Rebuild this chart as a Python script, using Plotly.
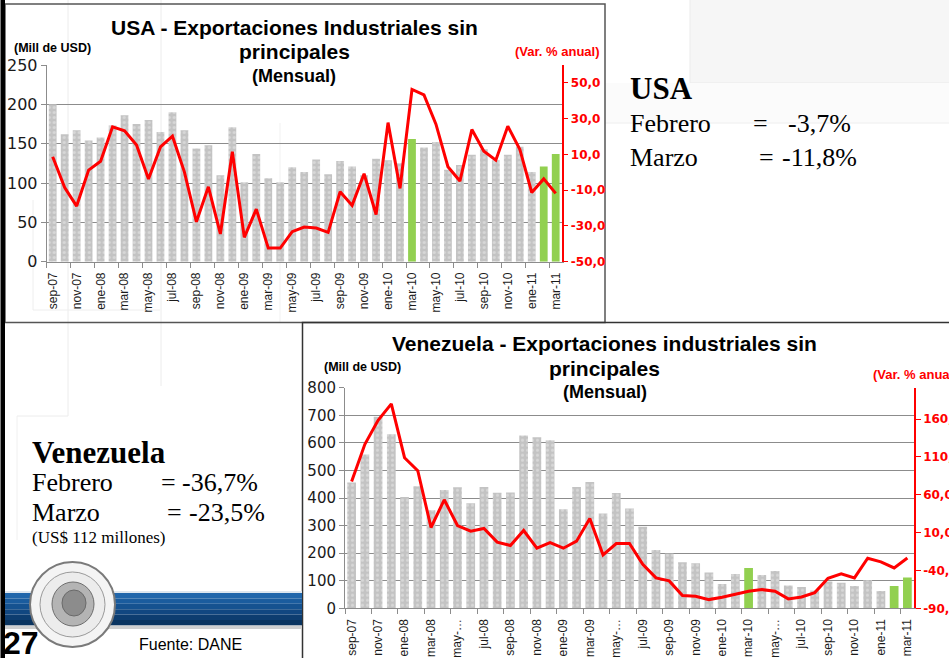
import plotly.graph_objects as go

W, H = 949, 658


def fx(x):
    return x / W


def fy(y):
    return 1 - y / H


# ---------------- data ----------------
months = ["sep-07", "oct-07", "nov-07", "dic-07", "ene-08", "feb-08", "mar-08", "abr-08",
          "may-08", "jun-08", "jul-08", "ago-08", "sep-08", "oct-08", "nov-08", "dic-08",
          "ene-09", "feb-09", "mar-09", "abr-09", "may-09", "jun-09", "jul-09", "ago-09",
          "sep-09", "oct-09", "nov-09", "dic-09", "ene-10", "feb-10", "mar-10", "abr-10",
          "may-10", "jun-10", "jul-10", "ago-10", "sep-10", "oct-10", "nov-10", "dic-10",
          "ene-11", "feb-11", "mar-11"]
highlight = ["mar-10", "feb-11", "mar-11"]

usa_exports = [200, 162, 167, 154, 158, 173, 186, 175, 180, 165, 190, 167, 144, 148, 110,
               171, 101, 137, 106, 101, 120, 114, 130, 111, 128, 121, 110, 131, 129, 125,
               156, 145, 152, 117, 123, 136, 143, 129, 136, 146, 114, 121, 137]
usa_var = [8.7, -8.5, -18.9, 1.2, 6.2, 25.4, 23.2, 15.2, -3.8, 14.2, 20.2, 0.1, -27.7, -8.1,
           -34.5, 11.5, -36.4, -20.6, -42.4, -42.4, -33.2, -30.6, -31.2, -33.6, -10.9, -18.5,
           -0.8, -23.6, 27.8, -9.0, 46.3, 43.3, 26.9, 3.1, -4.9, 23.9, 11.8, 6.8, 25.8, 12.9,
           -11.3, -3.7, -11.8]

ven_exports = [456, 558, 695, 631, 404, 443, 356, 429, 439, 381, 440, 419, 420, 627, 620,
               609, 359, 440, 458, 344, 418, 362, 296, 211, 199, 167, 163, 130, 88, 124,
               146, 121, 135, 83, 77, 65, 97, 93, 81, 102, 63, 81, 112]
ven_var = [77.7, 126.7, 158.5, 180.1, 109.0, 91.8, 16.8, 53.4, 19.4, 11.9, 15.5, -2.6, -7.0,
           12.8, -10.6, -3.1, -10.6, -1.3, 28.7, -19.4, -4.4, -4.4, -32.0, -49.8, -53.8,
           -73.2, -74.1, -78.5, -75.4, -71.5, -67.5, -65.3, -67.5, -77.6, -75.0, -69.3,
           -50.3, -44.5, -49.8, -23.8, -28.7, -36.7, -23.5]

usa_left_ticks = [0, 50, 100, 150, 200, 250]
usa_right_ticks = [-50, -30, -10, 10, 30, 50]
ven_left_ticks = [0, 100, 200, 300, 400, 500, 600, 700, 800]
ven_right_ticks = [-90, -40, 10, 60, 110, 160]

usa_ticktext = months[::2]
ven_ticktext = ["may-\u2026" if m.startswith("may") else m for m in months[::2]]

# ---------------- derived ----------------
idx = list(range(len(months)))
gray_idx = [i for i in idx if months[i] not in highlight]
green_idx = [i for i in idx if months[i] in highlight]


def fmt(v):
    return f"{v:.1f}".replace(".", ",")


GRAY = "#c3c3c3"
GREEN = "#92d050"
GRID = "#8c8c8c"
pattern = dict(shape=".", fgcolor="#ececec", bgcolor=GRAY, size=5, solidity=0.3)

fig = go.Figure()

# USA
fig.add_trace(go.Bar(x=gray_idx, y=[usa_exports[i] for i in gray_idx], width=0.65,
                     marker=dict(color=GRAY, pattern=pattern, line=dict(width=0)),
                     xaxis="x", yaxis="y", hoverinfo="skip"))
fig.add_trace(go.Bar(x=green_idx, y=[usa_exports[i] for i in green_idx], width=0.65,
                     marker=dict(color=GREEN, line=dict(width=0)),
                     xaxis="x", yaxis="y", hoverinfo="skip"))
fig.add_trace(go.Scatter(x=idx, y=usa_var, mode="lines",
                         line=dict(color="#ff0000", width=3),
                         xaxis="x", yaxis="y2", hoverinfo="skip"))
# Venezuela
fig.add_trace(go.Bar(x=gray_idx, y=[ven_exports[i] for i in gray_idx], width=0.66,
                     marker=dict(color=GRAY, pattern=pattern, line=dict(width=0)),
                     xaxis="x2", yaxis="y3", hoverinfo="skip"))
fig.add_trace(go.Bar(x=green_idx, y=[ven_exports[i] for i in green_idx], width=0.66,
                     marker=dict(color=GREEN, line=dict(width=0)),
                     xaxis="x2", yaxis="y3", hoverinfo="skip"))
fig.add_trace(go.Scatter(x=idx, y=ven_var, mode="lines",
                         line=dict(color="#ff0000", width=3),
                         xaxis="x2", yaxis="y4", hoverinfo="skip"))


def xaxis_cfg(x0, x1, anchor, ticktext, size):
    return dict(domain=[fx(x0), fx(x1)], anchor=anchor, range=[-0.5, len(months) - 0.5],
                tickmode="array", tickvals=idx[::2], ticktext=ticktext, tickangle=-90,
                ticks="outside", ticklen=5, tickcolor="rgba(0,0,0,0)",
                showline=True, linecolor=GRID, linewidth=1, showgrid=False, zeroline=False,
                tickfont=dict(family="Liberation Sans, Arial", size=size, color="#1a1a1a"),
                minor=dict(tickmode="array", tickvals=[i - 0.5 for i in idx[::2]],
                           ticks="outside", ticklen=5, tickcolor=GRID, showgrid=False),
                fixedrange=True)


def yleft_cfg(y0, y1, anchor, rng, ticks, size):
    return dict(domain=[fy(y1), fy(y0)], anchor=anchor, range=rng, tickmode="array",
                tickvals=ticks, ticktext=[str(t) for t in ticks], showgrid=True,
                gridcolor=GRID, gridwidth=1, zeroline=False, showline=True, linecolor=GRID,
                ticks="outside", ticklen=5, tickcolor=GRID,
                tickfont=dict(family="DejaVu Sans", size=size, color="#1a1a1a"),
                fixedrange=True)


def yright_cfg(over, anchor, rng, ticks):
    return dict(overlaying=over, side="right", anchor=anchor, range=rng, tickmode="array",
                tickvals=ticks, ticktext=[fmt(t) for t in ticks], showgrid=False,
                zeroline=False, showline=True, linecolor="#ff0000", linewidth=1.5,
                ticks="outside", ticklen=5, tickcolor="#ff0000",
                tickfont=dict(family="DejaVu Sans", size=12, color="#ff0000", weight="bold"),
                fixedrange=True)


shapes = []


def rect(x0, y0, x1, y1, fill="rgba(0,0,0,0)", line="rgba(0,0,0,0)", lw=0, layer="below"):
    shapes.append(dict(type="rect", xref="paper", yref="paper", x0=fx(x0), x1=fx(x1),
                       y0=fy(y1), y1=fy(y0), fillcolor=fill,
                       line=dict(color=line, width=lw), layer=layer))


def hline(x0, x1, y, color, lw=1):
    shapes.append(dict(type="line", xref="paper", yref="paper", x0=fx(x0), x1=fx(x1),
                       y0=fy(y), y1=fy(y), line=dict(color=color, width=lw), layer="below"))


def vline(x, y0, y1, color, lw=1):
    shapes.append(dict(type="line", xref="paper", yref="paper", x0=fx(x), x1=fx(x),
                       y0=fy(y0), y1=fy(y1), line=dict(color=color, width=lw), layer="below"))


def circle(x0, y0, x1, y1, fill, line, lw):
    shapes.append(dict(type="circle", xref="paper", yref="paper", x0=fx(x0), x1=fx(x1),
                       y0=fy(y1), y1=fy(y0), fillcolor=fill,
                       line=dict(color=line, width=lw), layer="below"))


# faint template panels
rect(690, -2, 952, 83, fill="#f6f6f6", line="#ebebeb", lw=1)
rect(605, 83, 952, 123, fill="#fbfbfb")
hline(605, 952, 123, "#eeeeee")
vline(68, 0, 416, "#ececec")
vline(161, 0, 386, "#ececec")
hline(17, 68, 416, "#ececec")
vline(17, 416, 540, "#f0f0f0")
vline(33, 200, 310, "#eeeeee")
hline(33, 160, 310, "#eeeeee")
vline(280, 123, 322, "#f1f1f1")

# chart frames
rect(5, 4, 605, 322.5, line="#555555", lw=1.5)
rect(302.5, 322.5, 962, 672, line="#333333", lw=1.5)
rect(0.5, -2, 5, 662, fill="#000000")

# blue band (gradient imitation)
rect(5, 591, 302, 593, fill="#dde6ef")
band = ["#2066ab", "#1a5c9e", "#155290", "#114781", "#0d3d70", "#0a3460"]
for k, c in enumerate(band):
    rect(5, 593 + k * 5.4, 302, 593 + (k + 1) * 5.4, fill=c)
rect(5, 625.4, 302, 629, fill="#cfcfcf")

# seal
circle(30, 562, 115, 647, "#f4f4f4", "#7a7a7a", 2)
circle(40, 572, 105, 637, "#ececec", "#9a9a9a", 1)
circle(52, 582, 94, 626, "#b4b4b4", "#6e6e6e", 1)
circle(62, 590, 86, 616, "#8c8c8c", "#6a6a6a", 1)

ann = []


def text(t, x, y, size, family="Liberation Sans, Arial", color="#000000", anchor="center",
         bold=False):
    ann.append(dict(text=f"<b>{t}</b>" if bold else t, x=fx(x), y=fy(y), xref="paper",
                    yref="paper", xanchor=anchor, yanchor="middle", showarrow=False,
                    font=dict(family=family, size=size, color=color)))


SERIF = "Liberation Serif, Times New Roman"

# USA titles
text("USA - Exportaciones Industriales sin", 294, 27, 21, bold=True)
text("principales", 294, 51, 21, bold=True)
text("(Mensual)", 294, 76, 18, bold=True)
text("(Mill de USD)", 52, 48, 12.5, bold=True)
text("(Var. % anual)", 557, 52, 13, color="#ff0000", bold=True)

# Venezuela titles
text("Venezuela - Exportaciones industriales sin", 604, 343, 21, bold=True)
text("principales", 604, 368, 21, bold=True)
text("(Mensual)", 605, 392, 18, bold=True)
text("(Mill de USD)", 362, 367, 12.5, bold=True)
text("(Var. % anual)", 871, 374, 13, color="#ff0000", anchor="left", bold=True)

# USA summary
text("USA", 628, 88, 31, family=SERIF, anchor="left", bold=True)
text("Febrero", 628, 124, 26, family=SERIF, anchor="left")
text("=", 751, 124, 26, family=SERIF, anchor="left")
text("-3,7%", 786, 124, 26, family=SERIF, anchor="left")
text("Marzo", 628, 157, 26, family=SERIF, anchor="left")
text("=", 757, 157, 26, family=SERIF, anchor="left")
text("-11,8%", 780, 157, 26, family=SERIF, anchor="left")

# Venezuela summary
text("Venezuela", 30, 452, 31, family=SERIF, anchor="left", bold=True)
text("Febrero", 30, 482, 26, family=SERIF, anchor="left")
text("=", 159, 482, 26, family=SERIF, anchor="left")
text("-36,7%", 180, 482, 26, family=SERIF, anchor="left")
text("Marzo", 30, 512, 26, family=SERIF, anchor="left")
text("=", 165, 512, 26, family=SERIF, anchor="left")
text("-23,5%", 187, 512, 26, family=SERIF, anchor="left")
text("(US$ 112 millones)", 30, 537, 17, family=SERIF, anchor="left")

# footer
text("27", 1, 643, 32, anchor="left", bold=True)
text("Fuente: DANE", 137, 644, 16, anchor="left")

fig.update_layout(
    width=W, height=H, margin=dict(l=0, r=0, t=0, b=0, autoexpand=False),
    paper_bgcolor="#ffffff", plot_bgcolor="rgba(0,0,0,0)",
    showlegend=False, barmode="overlay",
    xaxis=xaxis_cfg(46.7, 561.7, "y", usa_ticktext, 12),
    yaxis=yleft_cfg(65, 261.7, "x", [0, 250], usa_left_ticks, 16),
    yaxis2=yright_cfg("y", "x", [-50, 60], usa_right_ticks),
    xaxis2=xaxis_cfg(345, 914, "y3", ven_ticktext, 12),
    yaxis3=yleft_cfg(387.7, 608.3, "x2", [0, 800], ven_left_ticks, 15),
    yaxis4=yright_cfg("y3", "x2", [-90, 201.5], ven_right_ticks),
    shapes=shapes, annotations=ann,
)

fig.write_html("out.html", config={"displayModeBar": False},
               post_script="document.body.style.margin='0';document.body.style.overflow='hidden';")
